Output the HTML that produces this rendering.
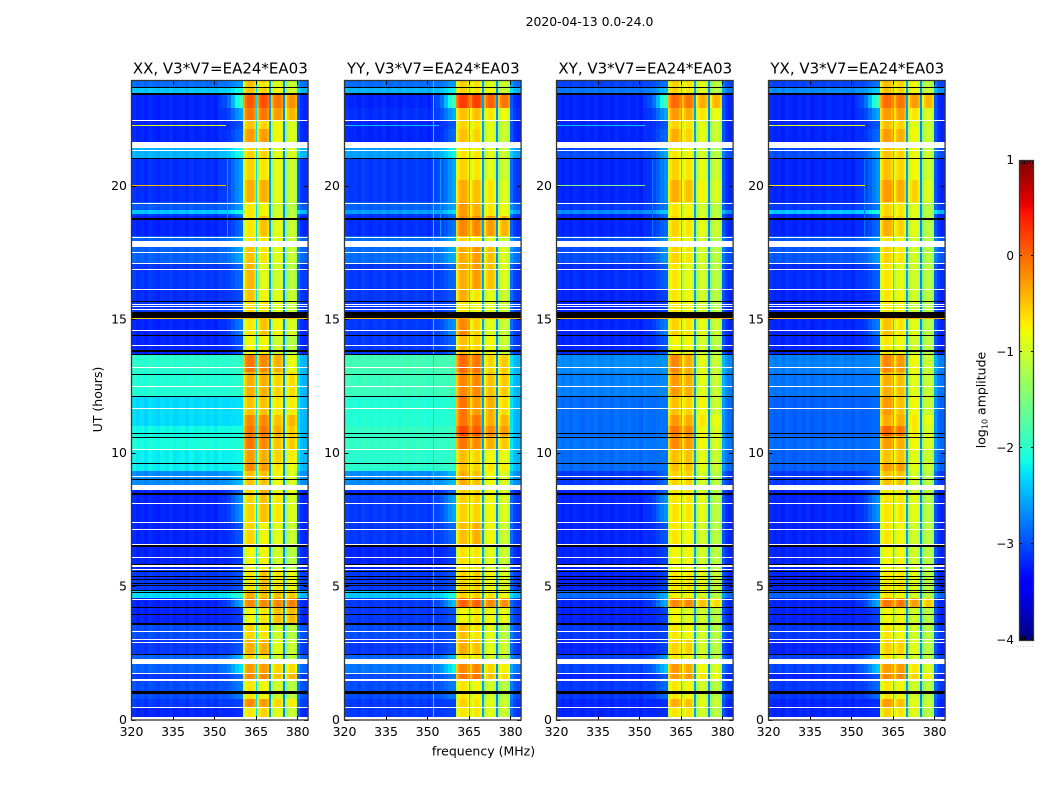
<!DOCTYPE html>
<html lang="en">
<head>
<meta charset="utf-8">
<title>2020-04-13 0.0-24.0</title>
<style>
html,body{margin:0;padding:0;background:#fff;}
svg{display:block;font-family:"DejaVu Sans","Liberation Sans",sans-serif;}
</style>
</head>
<body>
<svg id="figure" xmlns="http://www.w3.org/2000/svg" width="1050" height="800" viewBox="0 0 1050 800">
  <rect x="0" y="0" width="1050" height="800" fill="#ffffff"/>
  <text x="589.5" y="26" font-size="12.4" text-anchor="middle" fill="#000">2020-04-13 0.0-24.0</text>
  <text transform="translate(102,399.5) rotate(-90)" font-size="12.5" text-anchor="middle" fill="#000">UT (hours)</text>
  <text x="483.5" y="755.5" font-size="12.5" text-anchor="middle" fill="#000">frequency (MHz)</text>
  <text transform="translate(985.5,400) rotate(-90)" font-size="12.5" text-anchor="middle" fill="#000">log<tspan font-size="8" dy="2">10</tspan><tspan dy="-2"> amplitude</tspan></text>
  <text x="1017" y="647" font-size="5" letter-spacing="1.4" fill="#666">......</text>
</svg>
<script>
/* ---------- values (log10 amplitude, UT hours, MHz) ---------- */
const panelTitles = ["XX, V3*V7=EA24*EA03","YY, V3*V7=EA24*EA03","XY, V3*V7=EA24*EA03","YX, V3*V7=EA24*EA03"];
const freqTicks = [320,335,350,365,380];
const utTicks = [0,5,10,15,20];
const colorbarTicks = [1,0,-1,-2,-3,-4];

const utEdges = [0,.45,.75,1.45,1.75,2.1,2.45,3,3.6,4.2,
  4.55,4.85,5.6,6.55,7.4,8.45,8.8,9.3,9.6,10.1,
  10.6,11,11.4,12.1,13,13.7,14.4,15.05,15.65,16.1,
  17.1,17.7,18.1,18.85,18.95,19.1,19.4,20.2,21,21.4,
  22.1,22.4,22.9,23.4,23.66,23.9];

const xxBackground = [-3.2,-3.1,-3,-3.1,-2.9,-2.9,-3.1,-3,-3.2,-3.2,
  -2.3,-3.1,-3.2,-3.2,-3.2,-3.2,-2.7,-2.2,-2.2,-2.1,
  -2.15,-2.3,-2.3,-2.05,-2,-3.2,-3.2,-3.1,-3.15,-3.1,
  -2.9,-2.9,-3.2,-3.1,-2.4,-2.95,-3.15,-3.15,-2.5,-3.2,
  -3.2,-3.2,-3.2,-2.4,-2.85];
const yyBackground = [-3.1,-3.1,-3,-3,-2.8,-2.9,-3.1,-3,-3.1,-3.1,
  -2.4,-3.1,-3.2,-3.1,-3.1,-3.2,-2.7,-2,-2,-1.95,
  -1.95,-2.05,-2.05,-1.9,-1.85,-3.1,-3.1,-3.1,-3.1,-3.1,
  -2.85,-2.85,-3.15,-3.1,-2.6,-2.9,-3.1,-3.1,-2.6,-3.2,
  -3.2,-3.15,-3.2,-2.5,-2.85];
const xyBackground = [-3.2,-3.2,-3.1,-3.2,-3.05,-3.05,-3.2,-3.1,-3.2,-3.2,
  -2.85,-3.2,-3.2,-3.2,-3.2,-3.2,-3.1,-2.85,-2.85,-2.8,
  -2.85,-2.85,-2.85,-2.75,-2.7,-3.2,-3.2,-3.2,-3.2,-3.15,
  -3,-3,-3.2,-3.2,-2.7,-3.1,-3.2,-3.2,-3,-3.2,
  -3.2,-3.2,-3.2,-2.8,-3.05];
const yxBackground = [-3.2,-3.2,-3.1,-3.2,-3.05,-3.05,-3.2,-3.1,-3.2,-3.2,
  -2.9,-3.2,-3.2,-3.2,-3.2,-3.2,-3.1,-2.9,-2.9,-2.85,
  -2.9,-2.9,-2.9,-2.8,-2.75,-3.2,-3.2,-3.2,-3.2,-3.15,
  -2.95,-2.95,-3.2,-3.2,-2.4,-3.1,-3.2,-3.2,-3,-3.2,
  -3.2,-3.2,-3.2,-2.7,-3.05];

/* one row per UT segment: the four spectral-window levels */
const xxSpw = [[-.7,-.6,-.8,-.9],[-.2,-.3,-.5,-.6],[-.7,-.8,-.9,-1],[-.2,-.2,-.4,-.3],[-.3,-.3,-.5,-.5],
  [-.6,-.7,-.9,-1],[-.4,-.4,-.8,-.9],[-.6,-.7,-.9,-1],[-.8,-.7,-.4,-.3],[-.2,-.2,-.1,0],
  [-.4,-.5,-.4,-.4],[-.7,-.5,-.6,-.7],[-.8,-.8,-.9,-1],[-.6,-.8,-.8,-.9],[-.6,-.5,-.6,-.8],
  [-.6,-.4,-.7,-.7],[-.5,-.5,-.7,-.8],[-.2,-.3,-.6,-.7],[-.3,-.4,-.5,-.6],[-.1,-.2,-.4,-.4],
  [-.1,-.1,-.3,-.4],[-.2,-.2,-.4,-.3],[-.5,-.5,-.6,-.6],[-.4,-.4,-.5,-.5],[-.1,-.2,-.3,-.7],
  [-.8,-.8,-.9,-1],[-.7,-.5,-.7,-.8],[-.6,-.7,-.8,-.9],[-.5,-.8,-.8,-.9],[-.45,-.9,-.9,-1],
  [-.5,-.7,-.8,-.9],[-.7,-.7,-.8,-.9],[-.7,-.5,-.8,-.9],[-.7,-.8,-.9,-1],[-.7,-.8,-.9,-1],
  [-.7,-.8,-.9,-1],[-.4,-.4,-.8,-.9],[-.6,-.7,-.8,-.9],[-.6,-.6,-.8,-.8],[-.3,-.3,-.7,-.8],
  [-.5,-.6,-.7,-.8],[-.1,-.1,-.2,-.3],[.05,.1,0,-.1],[-.5,-.6,-.7,-.8],[-.5,-.7,-.8,-.9]];
const yySpw = [[-.7,-.7,-.8,-.9],[-.6,-.7,-.8,-.9],[-.7,-.8,-.9,-1],[-.1,-.1,-.4,-.5],[-.2,-.2,-.5,-.6],
  [-.7,-.7,-.9,-1],[-.4,-.5,-.8,-.9],[-.5,-.7,-.8,-1],[-.8,-.7,-.7,-.7],[0,0,-.1,-.1],
  [-.6,-.6,-.6,-.7],[-.6,-.6,-.7,-.8],[-.7,-.7,-.8,-.9],[-.5,-.4,-.7,-.9],[-.6,-.6,-.7,-.8],
  [-.6,-.6,-.7,-.8],[-.4,-.5,-.7,-.8],[-.5,-.6,-.6,-.6],[-.5,-.6,-.7,-.7],[-.1,-.2,-.3,-.4],
  [.15,.05,-.1,-.15],[-.1,-.1,-.3,-.3],[-.1,-.3,-.3,-.5],[-.2,-.2,-.4,-.4],[-.05,-.1,-.5,-.4],
  [-.5,-.6,-.7,-.9],[-.2,-.6,-.8,-.9],[-.7,-.8,-.8,-.9],[-.4,-.7,-.8,-.9],[-.4,-.3,-.4,-.8],
  [-.4,-.3,-.4,-.8],[-.6,-.7,-.8,-.9],[-.2,-.2,-.2,-.3],[-.3,-.4,-.6,-.7],[-.3,-.4,-.6,-.7],
  [-.3,-.4,-.6,-.7],[-.4,-.5,-.6,-.8],[-.6,-.7,-.8,-.9],[-.7,-.7,-.8,-.9],[-.5,-.6,-.8,-.9],
  [-.6,-.7,-.8,-.9],[-.5,-.5,-.6,-.7],[.2,.2,.1,.05],[-.6,-.7,-.7,-.9],[-.6,-.7,-.8,-.9]];
const xySpw = [[-.7,-.7,-.9,-1],[-.4,-.5,-.8,-.9],[-.7,-.8,-.9,-1],[-.3,-.3,-.6,-.7],[-.3,-.4,-.7,-.8],
  [-.7,-.8,-.9,-1],[-.6,-.6,-.9,-1],[-.7,-.8,-.9,-1],[-.8,-.9,-.9,-1],[-.2,-.2,-.4,-.5],
  [-.8,-.8,-.9,-1],[-.7,-.7,-.8,-.9],[-.8,-.8,-.9,-1],[-.7,-.8,-.9,-1],[-.7,-.7,-.8,-1],
  [-.7,-.7,-.9,-1],[-.6,-.6,-.9,-1],[-.5,-.5,-.8,-.9],[-.5,-.5,-.8,-.9],[-.2,-.3,-.7,-.8],
  [-.1,-.2,-.7,-.8],[-.3,-.4,-.6,-.7],[-.5,-.6,-.7,-.9],[-.3,-.4,-.8,-.9],[-.2,-.4,-.8,-.9],
  [-.8,-.8,-.9,-1],[-.6,-.7,-.8,-.9],[-.7,-.8,-.9,-1],[-.7,-.8,-.9,-1],[-.7,-.9,-.9,-1],
  [-.6,-.7,-.9,-1],[-.7,-.8,-.9,-1],[-.6,-.7,-.8,-.9],[-.7,-.8,-.9,-1],[-.7,-.8,-.9,-1],
  [-.7,-.8,-.9,-1],[-.4,-.5,-.7,-.8],[-.6,-.7,-.8,-.9],[-.7,-.8,-.9,-1],[-.4,-.6,-.8,-.9],
  [-.6,-.7,-.8,-.9],[-.3,-.4,-.6,-.7],[-.05,-.1,-.3,-.3],[-.6,-.7,-.8,-1],[-.6,-.7,-.8,-1]];
const yxSpw = [[-.6,-.7,-.8,-1],[-.3,-.5,-.8,-.9],[-.7,-.8,-.9,-1],[-.2,-.2,-.5,-.6],[-.3,-.3,-.6,-.8],
  [-.7,-.8,-.9,-1],[-.6,-.6,-.8,-1],[-.7,-.8,-.9,-1],[-.8,-.8,-.9,-1],[-.1,-.1,-.2,-.4],
  [-.7,-.8,-.9,-1],[-.7,-.7,-.8,-1],[-.8,-.8,-.9,-1],[-.7,-.8,-.9,-1],[-.7,-.7,-.8,-1],
  [-.7,-.7,-.9,-1],[-.5,-.5,-.9,-1],[-.3,-.3,-.8,-.9],[-.5,-.5,-.8,-.9],[-.3,-.4,-.7,-.8],
  [0,-.1,-.6,-.8],[-.4,-.4,-.6,-.7],[-.3,-.5,-.7,-.9],[-.4,-.5,-.8,-.9],[-.2,-.3,-.7,-.9],
  [-.7,-.8,-.9,-1],[-.5,-.7,-.8,-1],[-.7,-.8,-.9,-1],[-.7,-.8,-.9,-1],[-.7,-.9,-.9,-1],
  [-.6,-.7,-.9,-1],[-.7,-.8,-.9,-1],[-.4,-.6,-.8,-1],[-.6,-.7,-.8,-1],[-.6,-.7,-.8,-1],
  [-.6,-.7,-.8,-1],[-.3,-.4,-.5,-.8],[-.5,-.6,-.7,-.9],[-.5,-.6,-.7,-.9],[-.3,-.4,-.7,-.9],
  [-.5,-.6,-.8,-.9],[-.3,-.3,-.6,-.8],[-.05,-.1,-.2,-.3],[-.5,-.6,-.7,-.9],[-.5,-.6,-.7,-1]];

/* brightening of the band below 360 MHz, per UT segment */
const edgeBoost = [0,0,.2,.2,.6,.4,.1,0,.1,.6,
  .3,.1,.1,.2,.5,.3,.2,0,0,0,
  0,0,0,0,0,.2,.4,.1,.1,.2,
  .3,.3,.3,.3,.3,.3,.5,.5,.4,.3,
  .2,.6,1.3,.3,.2];

/* across-channel structure, 320 to 360.3 MHz in equal steps */
const channelOffsets = [.04,-.02,.02,-.04,.04,0,-.04,.02,-.02,.04,-.04,0,.02,-.04,.04,-.02,0,.04,-.02,.02,-.04,.04,0,0,.02,.04,.04];
const edgeProfile = [0,0,0,0,0,0,0,0,0,0,0,0,0,0,0,0,0,0,0,0,0,.05,.15,.3,.55,.8,1];
const backgroundEndMHz = 360.3;
const spwEdgesMHz = [[360.3,364.8],[365.3,369.8],[370.3,374.8],[375.3,379.8]];
const spwProfile = [-.35,-.08,.04,.05,.02,-.14];
const spwShift = [0,0,-.1,-.15];
const gapEdgesMHz = [[364.8,365.4],[369.8,370.4],[374.8,375.4]];
const gapLevels = [-2.3,-2.6,-2.7];
const rightEdgesMHz = [379.8,381,382,383,383.8];
const rightOffsets = [.25,.05,0,0];

const whiteFlags = [[.445,.475],[.0,.085],[1.46,1.5],[1.7,1.74],[2.08,2.27],[2.87,2.91],[2.96,3],[3.29,3.33],[4.48,4.52],
  [5.61,5.65],[5.73,5.77],[6.04,6.08],[6.54,6.58],[7.1,7.14],[7.37,7.41],[8.08,8.12],[8.6,8.78],[9.07,9.11],[10.1,10.14],
  [11.64,11.68],[12.44,12.48],[13.16,13.2],[13.98,14.02],[14.56,14.6],[15.34,15.38],[15.44,15.48],[15.53,15.57],
  [16.09,16.13],[16.84,16.88],[17.07,17.11],[17.47,17.51],[17.69,17.93],[18.03,18.07],[19.31,19.35],[21.28,21.32],[21.42,21.63],[22.42,22.46]];
const blackFlags = [[.97,1.05],[2.41,2.45],[3.55,3.63],[3.93,3.97],[4.18,4.22],[4.75,4.79],[4.8,4.84],[5.01,5.05],[5.08,5.12],
  [5.23,5.27],[5.33,5.37],[5.54,5.58],[5.8,5.84],[6.46,6.54],[8.42,8.47],[8.98,9.02],[9.58,9.62],[10.55,10.59],[10.7,10.74],
  [12.06,12.1],[12.91,12.95],[13.66,13.7],[13.77,13.85],[14.35,14.39],[15.05,15.27],[15.63,15.67],[18.69,18.73],[18.76,18.8],[21,21.04],[23.4,23.48],[23.64,23.68]];

/* narrow interference: panel index, UT, start MHz, end MHz, level */
const rfiRows = [[0,19.99,320,354,-.4],[0,22.25,320,354,-.9],[0,15.03,320,383.8,-.5],
  [1,15.03,320,383.8,-.4],[1,22.25,320,354,-2.4],
  [2,19.99,320,352,-1.6],[2,15.03,320,383.8,-.4],[2,22.25,320,352,-2.4],
  [3,19.99,320,355,-.7],[3,22.25,320,355,-.9],[3,15.03,320,383.8,-.4]];
/* panel index, MHz, start UT, end UT, level */
const rfiChannels = [[0,354.5,18,21,-2.6],[1,351.8,0,23.9,-2.3],[1,354.5,18,21,-2.6],[2,354.5,18,21,-2.8],[3,354.5,18,21,-2.8]];

const panelBackgrounds = [xxBackground,yyBackground,xyBackground,yxBackground];
const panelSpws = [xxSpw,yySpw,xySpw,yxSpw];

/* ---------- layout and scales ---------- */
const NS = "http://www.w3.org/2000/svg";
const svg = document.getElementById("figure");
const panelLefts = [131.5,344.5,556.5,768.5];
const PANEL_W = 176.6, TOP = 80.5, BOTTOM = 720;
const PX_PER_MHZ = 2.77, PX_PER_HOUR = 26.7, Y0 = 719.5;
const xOf = (left, mhz) => left + (mhz - 320) * PX_PER_MHZ;
const yOf = ut => Y0 - ut * PX_PER_HOUR;

const jetR = [[0,0],[.35,0],[.66,1],[.89,1],[1,.5]];
const jetG = [[0,0],[.125,0],[.375,1],[.64,1],[.91,0],[1,0]];
const jetB = [[0,.5],[.11,1],[.34,1],[.65,0],[1,0]];
function knot(k, t) {
  for (let i = 1; i < k.length; i++) {
    if (t <= k[i][0]) return k[i-1][1] + (k[i][1]-k[i-1][1]) * (t-k[i-1][0]) / (k[i][0]-k[i-1][0]);
  }
  return k[k.length-1][1];
}
function color(level) {
  const t = Math.max(0, Math.min(1, (level + 4) / 5));
  return "rgb(" + Math.round(255*knot(jetR,t)) + "," + Math.round(255*knot(jetG,t)) + "," + Math.round(255*knot(jetB,t)) + ")";
}
function shape(parent, tag, geom) {
  const el = document.createElementNS(NS, tag);
  for (const k in geom) el.setAttribute(k, geom[k]);
  parent.appendChild(el);
  return el;
}
function box(parent, x0, x1, y0, y1, fill) {
  const xa = Math.round(x0), ya = Math.round(y0);
  const xb = Math.max(xa + 1, Math.round(x1)), yb = Math.max(ya + 1, Math.round(y1));
  return shape(parent, "rect", {x:xa, y:ya, width:xb-xa, height:yb-ya, fill:fill, "shape-rendering":"crispEdges"});
}
function label(parent, x, y, str, size, anchor) {
  const t = shape(parent, "text", {x:x, y:y, "font-size":size, "text-anchor":anchor, fill:"#000"});
  t.textContent = str;
  return t;
}

/* ---------- panels ---------- */
panelLefts.forEach((left, p) => {
  const g = shape(svg, "g", {});
  
  

  const bg = panelBackgrounds[p], spw = panelSpws[p];
  const chanStep = (backgroundEndMHz - 320) / channelOffsets.length;

  for (let r = 0; r < utEdges.length - 1; r++) {
    const y0 = yOf(utEdges[r+1]), y1 = yOf(utEdges[r]);
    channelOffsets.forEach((off, c) => {
      const f0 = 320 + c * chanStep;
      const cell = box(g, xOf(left,f0), xOf(left,f0+chanStep), y0, y1, color(bg[r] + off + edgeBoost[r]*edgeProfile[c]));
      
      
    });
    spwEdgesMHz.forEach((edge, s) => {
      const step = (edge[1]-edge[0]) / spwProfile.length;
      spwProfile.forEach((off, k) => {
        const f0 = edge[0] + k*step;
        const cell = box(g, xOf(left,f0), xOf(left,f0+step), y0, y1, color(spw[r][s] + spwShift[s] + off));
        
        
      });
    });
    gapEdgesMHz.forEach((edge, s) => {
      const cell = box(g, xOf(left,edge[0]), xOf(left,edge[1]), y0, y1, color(gapLevels[s]));
      
      
    });
    rightOffsets.forEach((off, k) => {
      const lvl = Math.min(bg[r], -2.5) + off;
      const cell = box(g, xOf(left,rightEdgesMHz[k]), xOf(left,rightEdgesMHz[k+1]), y0, y1, color(lvl));
      
      
    });
  }

  rfiChannels.filter(v => v[0] === p).forEach(v => {
    const line = box(g, xOf(left,v[1]), xOf(left,v[1])+1, yOf(v[3]), yOf(v[2]), color(v[4]));
    
    
  });
  rfiRows.filter(v => v[0] === p).forEach(v => {
    const line = box(g, xOf(left,v[2]), xOf(left,v[3]), yOf(v[1])-.5, yOf(v[1])+.5, color(v[4]));
    
    
  });

  whiteFlags.forEach(v => {
    const f = box(g, left, left+PANEL_W, yOf(v[1]), yOf(v[0]), "#ffffff");
    
    
  });
  blackFlags.forEach(v => {
    const f = box(g, left, left+PANEL_W, yOf(v[1]), yOf(v[0]), "#000000");
    
    
  });

  /* ticks */
  freqTicks.forEach(v => {
    const x = Math.floor(xOf(left,v)) + .5;
    const a = shape(g, "path", {d:"M"+x+" "+TOP+"v4M"+x+" "+BOTTOM+"v-4", stroke:"#000", "stroke-width":1, fill:"none"});
    
    
    const t = label(g, xOf(left,v), 736, String(v), 12.5, "middle");
    
    
  });
  utTicks.forEach(v => {
    const y = Math.round(yOf(v)) + .5;
    const a = shape(g, "path", {d:"M"+left+" "+y+"h4M"+(left+PANEL_W)+" "+y+"h-4", stroke:"#000", "stroke-width":1, fill:"none"});
    
    
    const t = label(g, left-4.5, yOf(v)+4.5, String(v), 12.5, "end");
    
    
  });

  const frame = shape(g, "rect", {x:left, y:TOP, width:PANEL_W, height:BOTTOM-TOP, fill:"none", stroke:"#333", "stroke-width":1.3});
  
  

  const title = label(g, left+PANEL_W/2+.5, 73.5, panelTitles[p], 15, "middle");
  
  
});

/* ---------- colour bar ---------- */
const cbX = 1019, cbW = 15, cbTop = 160, cbBottom = 640;
const cbHatchCount = 5;
const cbY = v => cbBottom - (v + 4) * (cbBottom - cbTop) / 5;
const cb = shape(svg, "g", {});


for (let y = cbTop; y < cbBottom; y += 2) {
  const s = box(cb, cbX, cbX+cbW, y, y+2, color(-4 + 5 * (cbBottom - y - 1) / (cbBottom - cbTop)));
  
  
}
for (let i = 1; i <= cbHatchCount; i++) {
  const x = Math.round(cbX + i * cbW / (cbHatchCount + 1)) + .5;
  const h = shape(cb, "path", {d:"M"+x+" "+cbTop+"v4M"+x+" "+cbBottom+"v-4", stroke:"#000", "stroke-width":1, fill:"none"});
  
  
}
colorbarTicks.forEach(v => {
  const y = Math.round(cbY(v)) + (v === 1 ? .5 : -.5);
  const a = shape(cb, "path", {d:"M"+cbX+" "+y+"h3M"+(cbX+cbW)+" "+y+"h-3", stroke:"#000", "stroke-width":1, fill:"none"});
  
  
  const t = label(cb, cbX-5, cbY(v)+4, String(v).replace("-", "\u2212"), 12, "end");
  
  
});
const cbFrame = shape(cb, "rect", {x:cbX+.5, y:cbTop+.5, width:cbW-1, height:cbBottom-cbTop, fill:"none", stroke:"#333", "stroke-width":1.3});


</script>
</body>
</html>
